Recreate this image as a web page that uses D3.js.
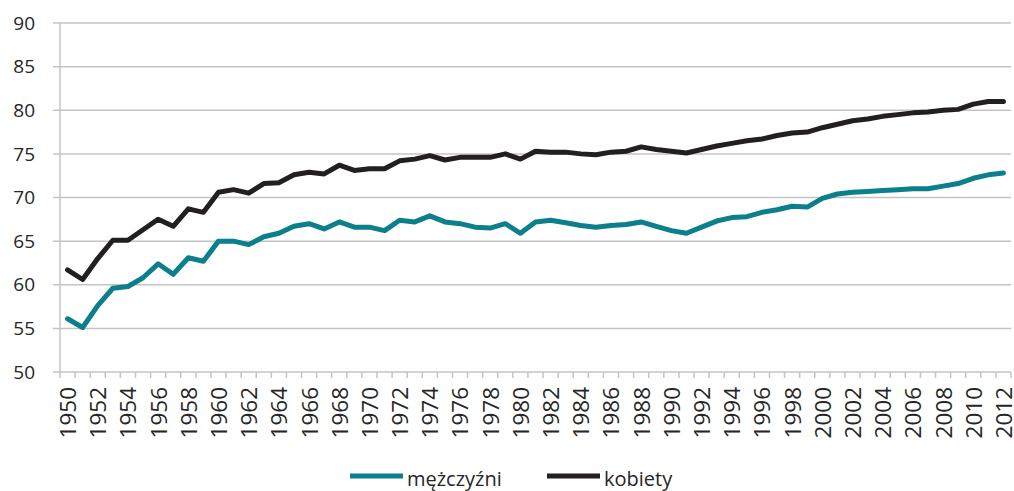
<!DOCTYPE html>
<html>
<head>
<meta charset="utf-8">
<script src="https://cdn.jsdelivr.net/npm/d3@7"></script>
<style>
  body { margin: 0; background: #fff; }
  svg { display: block; font-family: "Open Sans", "Noto Sans", sans-serif; }
</style>
</head>
<body>
<svg id="chart" width="1014" height="491"></svg>
<script>
var years = d3.range(1950, 2013)
var yTicks = [50, 55, 60, 65, 70, 75, 80, 85, 90]

// mężczyźni
var men = [56.1, 55.1, 57.6, 59.6, 59.8, 60.8, 62.4, 61.2, 63.1, 62.7,
  65.0, 65.0, 64.6, 65.5, 65.9, 66.7, 67.0, 66.4, 67.2, 66.6,
  66.6, 66.2, 67.4, 67.2, 67.9, 67.2, 67.0, 66.6, 66.5, 67.0,
  65.9, 67.2, 67.4, 67.1, 66.8, 66.6, 66.8, 66.9, 67.2, 66.7,
  66.2, 65.9, 66.6, 67.3, 67.7, 67.8, 68.3, 68.6, 69.0, 68.9,
  69.9, 70.4, 70.6, 70.7, 70.8, 70.9, 71.0, 71.0, 71.3, 71.6,
  72.2, 72.6, 72.8]

// kobiety
var women = [61.7, 60.6, 63.0, 65.1, 65.1, 66.3, 67.5, 66.7, 68.7, 68.3,
  70.6, 70.9, 70.5, 71.6, 71.7, 72.6, 72.9, 72.7, 73.7, 73.1,
  73.3, 73.3, 74.2, 74.4, 74.8, 74.3, 74.6, 74.6, 74.6, 75.0,
  74.4, 75.3, 75.2, 75.2, 75.0, 74.9, 75.2, 75.3, 75.8, 75.5,
  75.3, 75.1, 75.5, 75.9, 76.2, 76.5, 76.7, 77.1, 77.4, 77.5,
  78.0, 78.4, 78.8, 79.0, 79.3, 79.5, 79.7, 79.8, 80.0, 80.1,
  80.7, 81.0, 81.0]

var seriesNames = ["mężczyźni", "kobiety"]
var colors = ["#0b7f8c", "#231f20"]

var svg = d3.select("#chart")
var plotLeft = 60, plotRight = 1011, plotTop = 23, plotBottom = 372

var x = d3.scalePoint().domain(years).range([plotLeft, plotRight]).padding(0.5)
var xb = d3.scaleBand().domain(years).range([plotLeft, plotRight])
var y = d3.scaleLinear().domain([50, 90]).range([plotBottom, plotTop])

// gridlines
svg.append("g").selectAll("line").data(yTicks).enter().append("line")
  .attr("x1", plotLeft - 7).attr("x2", plotRight)
  .attr("y1", function(d){ return y(d) }).attr("y2", function(d){ return y(d) })
  .attr("stroke", "#c4c4c4").attr("stroke-width", 1.5)

// y axis line
svg.append("line").attr("x1", plotLeft).attr("x2", plotLeft).attr("y1", plotTop).attr("y2", plotBottom)
  .attr("stroke", "#c4c4c4").attr("stroke-width", 1.5)

// x tick marks at category boundaries
var bounds = years.map(function(d){ return xb(d) }).concat([xb(2012) + xb.bandwidth()])
svg.append("g").selectAll("line").data(bounds).enter().append("line")
  .attr("x1", function(d){ return d }).attr("x2", function(d){ return d })
  .attr("y1", plotBottom).attr("y2", plotBottom + 6)
  .attr("stroke", "#c4c4c4").attr("stroke-width", 1.5)

// y labels
svg.append("g").selectAll("text").data(yTicks).enter().append("text")
  .attr("x", 35).attr("y", function(d){ return y(d) })
  .attr("dy", "0.35em").attr("text-anchor", "end")
  .style("font-size", "19px").attr("fill", "#262626")
  .text(function(d){ return d })

// x labels
svg.append("g").selectAll("text").data(years.filter(function(d){ return d % 2 == 0 })).enter().append("text")
  .attr("transform", function(d){ return "translate(" + (x(d) + 1) + "," + 387 + ") rotate(-90)" })
  .attr("dy", "0.33em").attr("text-anchor", "end")
  .style("font-size", "22.5px").attr("fill", "#262626")
  .text(function(d){ return d })

// lines
var line = d3.line()
  .x(function(d, i){ return x(years[i]) })
  .y(function(d){ return y(d) })

;[men, women].forEach(function(s, i){
  svg.append("path").datum(s)
    .attr("d", line)
    .attr("fill", "none")
    .attr("stroke", colors[i])
    .attr("stroke-width", 5)
    .attr("stroke-linejoin", "round")
    .attr("stroke-linecap", "round")
})

// legend
var legX = [350, 547]
seriesNames.forEach(function(name, i){
  svg.append("line").attr("x1", legX[i]).attr("x2", legX[i] + 53)
    .attr("y1", 476).attr("y2", 476)
    .attr("stroke", colors[i]).attr("stroke-width", 5)
  svg.append("text").attr("x", legX[i] + 57).attr("y", 486)
    .style("font-size", "20px").attr("fill", "#262626")
    .text(name)
})
</script>
</body>
</html>
